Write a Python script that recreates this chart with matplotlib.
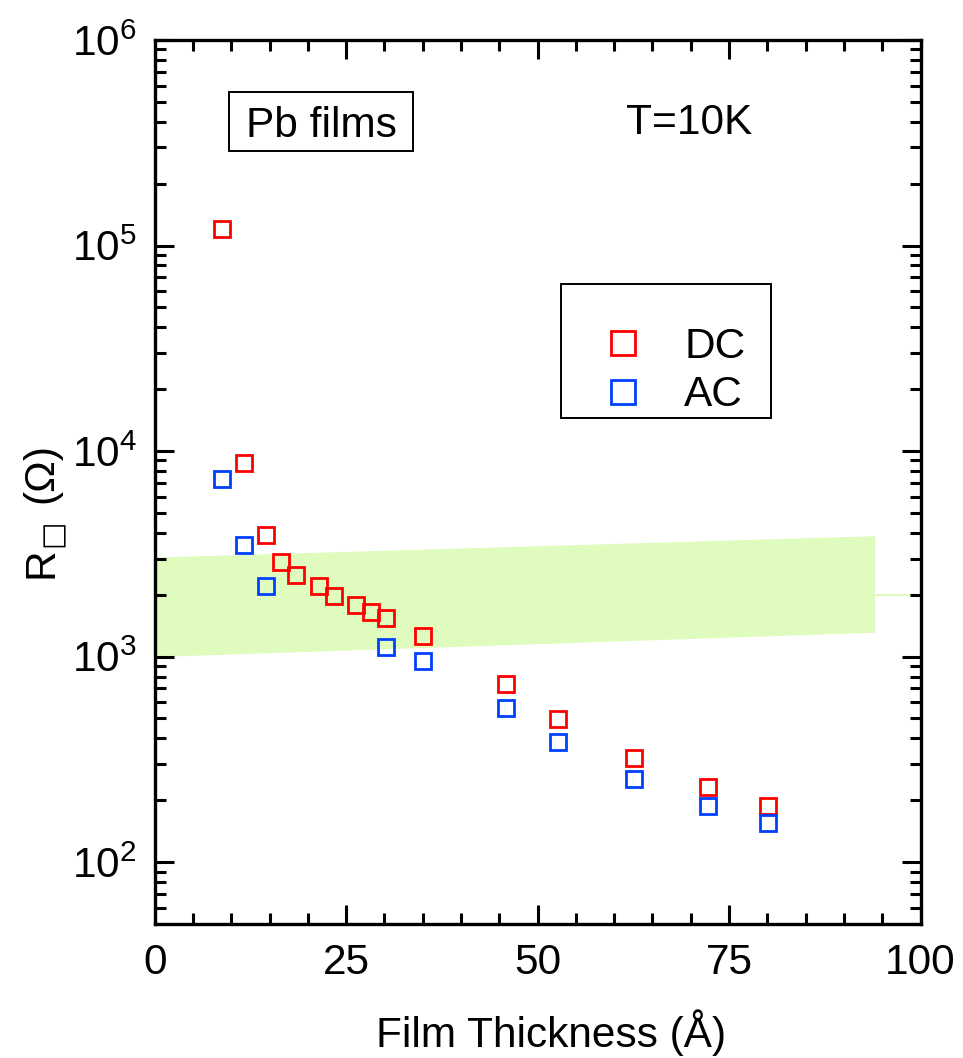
import matplotlib
matplotlib.use('Agg')
import matplotlib.pyplot as plt
from matplotlib.patches import Rectangle
from matplotlib.ticker import LogLocator, MultipleLocator, NullFormatter, LogFormatterSciNotation

plt.rcParams['font.family'] = ['Liberation Sans', 'DejaVu Sans']
plt.rcParams['mathtext.fontset'] = 'custom'
plt.rcParams['mathtext.rm'] = 'Liberation Sans'
plt.rcParams['mathtext.it'] = 'Liberation Sans:italic'
plt.rcParams['mathtext.bf'] = 'Liberation Sans:bold'

# ---- data ----
dc_thickness = [8.75, 11.66, 14.57, 16.53, 18.49, 21.42, 23.37, 26.29, 28.25, 30.2,
                35.07, 45.85, 52.69, 62.55, 72.26, 80.07]
dc_resist = [1.2e5, 8730, 3908, 2877, 2503, 2197, 1965, 1776, 1654, 1546,
             1264, 733, 497, 320, 233, 187.5]
ac_thickness = [8.75, 11.66, 14.57, 30.2, 35.07, 45.85, 52.69, 62.55, 72.26, 80.07]
ac_resist = [7295, 3490, 2198, 1113, 952, 560, 385, 253, 187.5, 154.5]

band_x = [0, 94]
band_low = [1000, 1314]
band_high = [3050, 3874]
stub_x = [94, 100]
stub_y = [2000, 2000]

series_labels = ['DC', 'AC']
xticks = [0, 25, 50, 75, 100]

FS = 30.5
W, H = 963, 1058

fig = plt.figure(figsize=(W / 100, H / 100), dpi=100)
ax = fig.add_axes([154.7 / W, 1 - 924 / H, (920.5 - 154.7) / W, (924 - 40) / H])

ax.fill_between(band_x, band_low, band_high, color='#dffcbe', lw=0, zorder=1)
ax.plot(stub_x, stub_y, color='#dffcbe', lw=1.5, zorder=1)

l_dc, = ax.plot(dc_thickness, dc_resist, 's', ls='none', mfc='none', mec='#ff0000',
                ms=11.3, mew=2.0, label=series_labels[0], zorder=3)
l_ac, = ax.plot(ac_thickness, ac_resist, 's', ls='none', mfc='none', mec='#0040ff',
                ms=11.3, mew=2.0, label=series_labels[1], zorder=3)

ax.set_yscale('log')
ax.set_xlim(0, 100)
ax.set_ylim(50, 1e6)
ax.set_xticks(xticks)
ax.set_xticklabels([str(t) for t in xticks])
ax.xaxis.set_minor_locator(MultipleLocator(5))
ax.yaxis.set_major_locator(LogLocator(base=10, numticks=20))
ax.yaxis.set_major_formatter(LogFormatterSciNotation())
ax.yaxis.set_minor_locator(LogLocator(base=10, subs=range(2, 10), numticks=20))
ax.yaxis.set_minor_formatter(NullFormatter())

ax.tick_params(which='both', direction='in', top=True, right=True, width=2.2,
               labelsize=FS, color='black')
ax.tick_params(which='major', length=13.7)
ax.tick_params(which='minor', length=7.9)
ax.tick_params(axis='x', pad=14)
ax.tick_params(axis='y', pad=13)
for s in ax.spines.values():
    s.set_linewidth(2.4)

# legend (entries) + manual frame
leg = ax.legend(handles=[l_dc, l_ac], loc='center left',
                bbox_to_anchor=(602.2 / W, 1 - 371 / H), bbox_transform=fig.transFigure,
                frameon=False, borderpad=0, borderaxespad=0, handlelength=1.0,
                handletextpad=0.94, labelspacing=0.21, fontsize=FS, numpoints=1)
for h in leg.legend_handles:
    h.set_markersize(16.8)
    h.set_markeredgewidth(2.0)
fig.add_artist(Rectangle((560.7 / W, 1 - 418.3 / H), 210 / W, 134.3 / H,
                         transform=fig.transFigure, fill=False, ec='black', lw=1.4))

# Pb films box
fig.add_artist(Rectangle((229.3 / W, 1 - 150.7 / H), 184 / W, 59 / H,
                         transform=fig.transFigure, fc='white', ec='black', lw=1.4))
fig.text(321.7 / W, 1 - 136.7 / H, 'Pb films', ha='center', va='baseline', fontsize=FS)
fig.text(689.5 / W, 1 - 134 / H, 'T=10K', ha='center', va='baseline', fontsize=FS)

# axis labels
fig.text(551 / W, 1 - 1047 / H, 'Film Thickness (Å)', ha='center', va='baseline', fontsize=FS)
fig.text(52 / W, 1 - 578 / H, 'R', rotation=90,
         rotation_mode='anchor', ha='left', va='baseline', fontsize=FS)
fig.text(52.5 / W, 1 - 533 / H, '□', rotation=90, family=['DejaVu Sans'],
         rotation_mode='anchor', ha='center', va='center', fontsize=21)
fig.text(52 / W, 1 - 503 / H, '(Ω)', rotation=90,
         rotation_mode='anchor', ha='left', va='baseline', fontsize=FS)

fig.savefig('out.png', dpi=100)
